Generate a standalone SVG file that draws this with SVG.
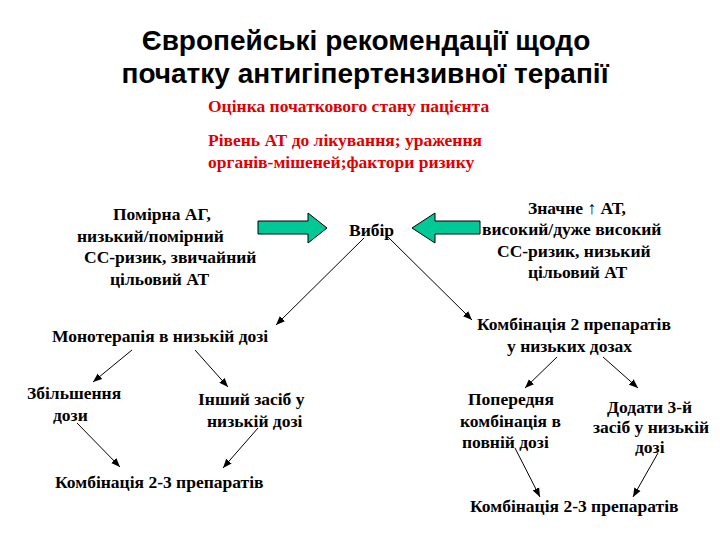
<svg xmlns="http://www.w3.org/2000/svg" width="720" height="540" viewBox="0 0 720 540">
<defs>
<marker id="ah" viewBox="0 0 10 10" refX="10" refY="5" markerWidth="9" markerHeight="9" markerUnits="userSpaceOnUse" orient="auto">
<path d="M0,1 L10,5 L0,9 z" fill="#000"/>
</marker>
<style>
.t{font-family:"Liberation Sans",Arial,sans-serif;font-weight:bold;font-size:28px;fill:#000;text-anchor:middle}
.r{font-family:"Liberation Serif","Times New Roman","DejaVu Serif",serif;font-weight:bold;font-size:17.5px;fill:#E00000}
.b{font-family:"Liberation Serif","Times New Roman","DejaVu Serif",serif;font-weight:bold;font-size:17.5px;fill:#000}
.c{stroke:#000;stroke-width:1;fill:none;marker-end:url(#ah)}
.g{fill:#00C896;stroke:#000;stroke-width:1}
</style>
</defs>
<rect width="720" height="540" fill="#fff"/>
<g id="title">
<text class="t" x="366" y="50">Європейські рекомендації щодо</text>
<text class="t" x="365" y="83">початку антигіпертензивної терапії</text>
</g>
<g id="assessment">
<text class="r" x="208" y="112">Оцінка початкового стану пацієнта</text>
<text class="r" x="208" y="146">Рівень АТ до лікування; ураження</text>
<text class="r" x="208" y="168">органів-мішеней;фактори ризику</text>
</g>
<g id="mild">
<text class="b" x="113" y="220">Помірна АГ,</text>
<text class="b" x="77" y="242">низький/помірний</text>
<text class="b" x="84" y="263">СС-ризик, звичайний</text>
<text class="b" x="110" y="285">цільовий АТ</text>
</g>
<g id="severe">
<text class="b" x="528" y="214">Значне ↑ АТ,</text>
<text class="b" x="482" y="235">високий/дуже високий</text>
<text class="b" x="497" y="257">СС-ризик, низький</text>
<text class="b" x="528" y="278">цільовий АТ</text>
</g>
<g id="arrow-left">
<polygon class="g" points="258,221 308,221 308,213 327,228 308,243 308,234 258,234"/>
</g>
<g id="arrow-right">
<polygon class="g" points="480,221 435,221 435,213 412,228 435,243 435,234 480,234"/>
</g>
<g id="choice">
<text class="b" x="349" y="236">Вибір</text>
</g>
<g id="mono">
<text class="b" x="52" y="342">Монотерапія в низькій дозі</text>
</g>
<g id="combo2">
<text class="b" x="477" y="330">Комбінація 2 препаратів</text>
<text class="b" x="507" y="352">у низьких дозах</text>
</g>
<g id="increase">
<text class="b" x="27" y="399">Збільшення</text>
<text class="b" x="53" y="421">дози</text>
</g>
<g id="other">
<text class="b" x="198" y="405">Інший засіб у</text>
<text class="b" x="207" y="427">низькій дозі</text>
</g>
<g id="prevfull">
<text class="b" x="468" y="405">Попередня</text>
<text class="b" x="460" y="427">комбінація в</text>
<text class="b" x="462" y="448">повній дозі</text>
</g>
<g id="add3">
<text class="b" x="607" y="413">Додати 3-й</text>
<text class="b" x="593" y="433">засіб у низькій</text>
<text class="b" x="635" y="453">дозі</text>
</g>
<g id="combo23-left">
<text class="b" x="55" y="488">Комбінація 2-3 препаратів</text>
</g>
<g id="combo23-right">
<text class="b" x="470" y="512">Комбінація 2-3 препаратів</text>
</g>
<g id="connectors">
<line class="c" x1="364" y1="238" x2="276" y2="325"/>
<line class="c" x1="388" y1="237" x2="472" y2="320"/>
<line class="c" x1="132" y1="350" x2="93" y2="382"/>
<line class="c" x1="195" y1="350" x2="228" y2="387"/>
<line class="c" x1="77" y1="423" x2="120" y2="467"/>
<line class="c" x1="258" y1="428" x2="223" y2="468"/>
<line class="c" x1="557" y1="357" x2="525" y2="388"/>
<line class="c" x1="603" y1="357" x2="638" y2="388"/>
<line class="c" x1="515" y1="448" x2="540" y2="497"/>
<line class="c" x1="658" y1="453" x2="633" y2="497"/>
</g>
</svg>
